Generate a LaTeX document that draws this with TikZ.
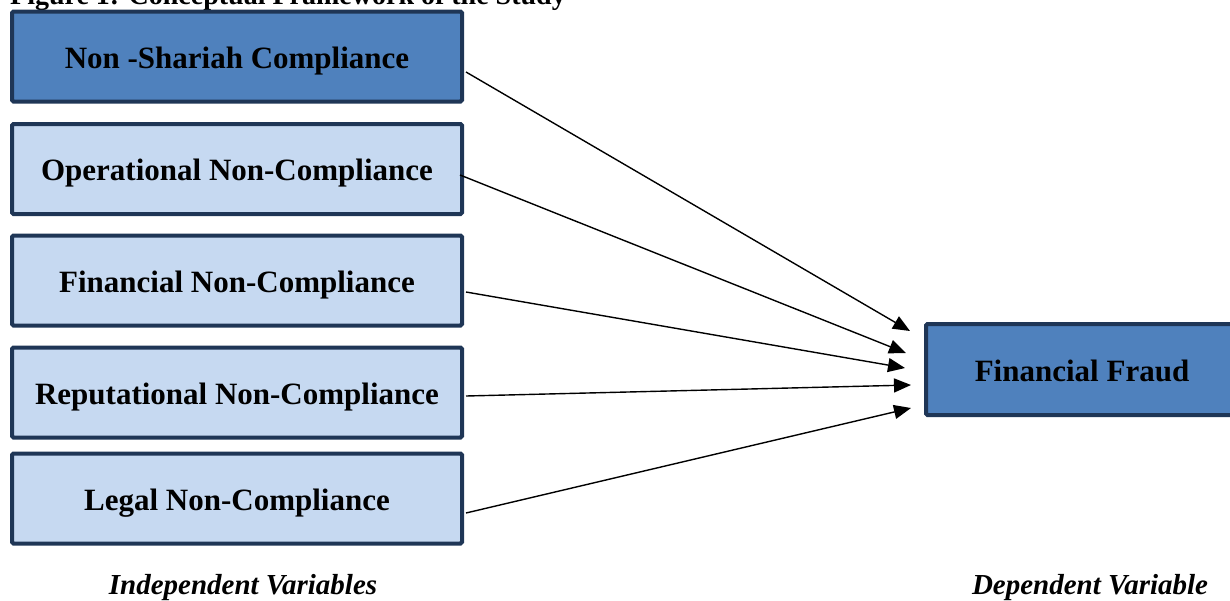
\documentclass[tikz,border=0pt]{standalone}
\usepackage{fontspec}
\setmainfont{Liberation Serif}
\usetikzlibrary{arrows.meta}
\definecolor{darkfill}{HTML}{4F81BD}
\definecolor{lightfill}{HTML}{C6D9F1}
\definecolor{boxborder}{HTML}{1F3656}
\begin{document}
\begin{tikzpicture}[x=1pt,y=-1pt,
  varbox/.style={draw=boxborder, line width=4pt, rounded corners=1.5pt, minimum width=450pt, minimum height=90pt, inner sep=0pt, text height=23pt, text depth=0pt, font=\fontsize{31}{34}\selectfont\bfseries, text=black},
  darkbox/.style={varbox, fill=darkfill},
  lightbox/.style={varbox, fill=lightfill},
  link/.style={line width=1.4pt, -{Triangle[length=17pt,width=14pt]}},
  caption/.style={font=\fontsize{29}{32}\selectfont\bfseries\itshape, text=black, inner sep=0pt}
]
\useasboundingbox (0,0) rectangle (1230,600);
\begin{scope}
\clip (0,0) rectangle (1230,600);
\node[anchor=base west, font=\fontsize{28}{31}\selectfont\bfseries, inner sep=0pt] (title) at (10,4) {Figure 1: Conceptual Framework of the Study};
\node[darkbox] (b1) at (237,56.5) {Non -Shariah Compliance};
\node[lightbox] (b2) at (237,169) {Operational Non-Compliance};
\node[lightbox] (b3) at (237,280.5) {Financial Non-Compliance};
\node[lightbox] (b4) at (237,392.5) {Reputational Non-Compliance};
\node[lightbox] (b5) at (237,498.5) {Legal Non-Compliance};
\node[darkbox, minimum width=312pt, minimum height=91pt] (ff) at (1082,369.5) {Financial Fraud};
\end{scope}
\coordinate (s1) at (466,72);
\coordinate (s2) at (460,175);
\coordinate (s3) at (466,292);
\coordinate (s4) at (466,396);
\coordinate (s5) at (466,513);
\coordinate (e1) at (910,331);
\coordinate (e2) at (906,353);
\coordinate (e3) at (905,368);
\coordinate (e4) at (911,385);
\coordinate (e5) at (911,408);
\draw[link] (s1) -- (e1);
\draw[link] (s2) -- (e2);
\draw[link] (s3) -- (e3);
\draw[link] (s4) -- (e4);
\draw[link] (s5) -- (e5);
\node[caption] (iv) at (243,588) {Independent Variables};
\node[caption] (dv) at (1090,588) {Dependent Variable};
\end{tikzpicture}
\end{document}
